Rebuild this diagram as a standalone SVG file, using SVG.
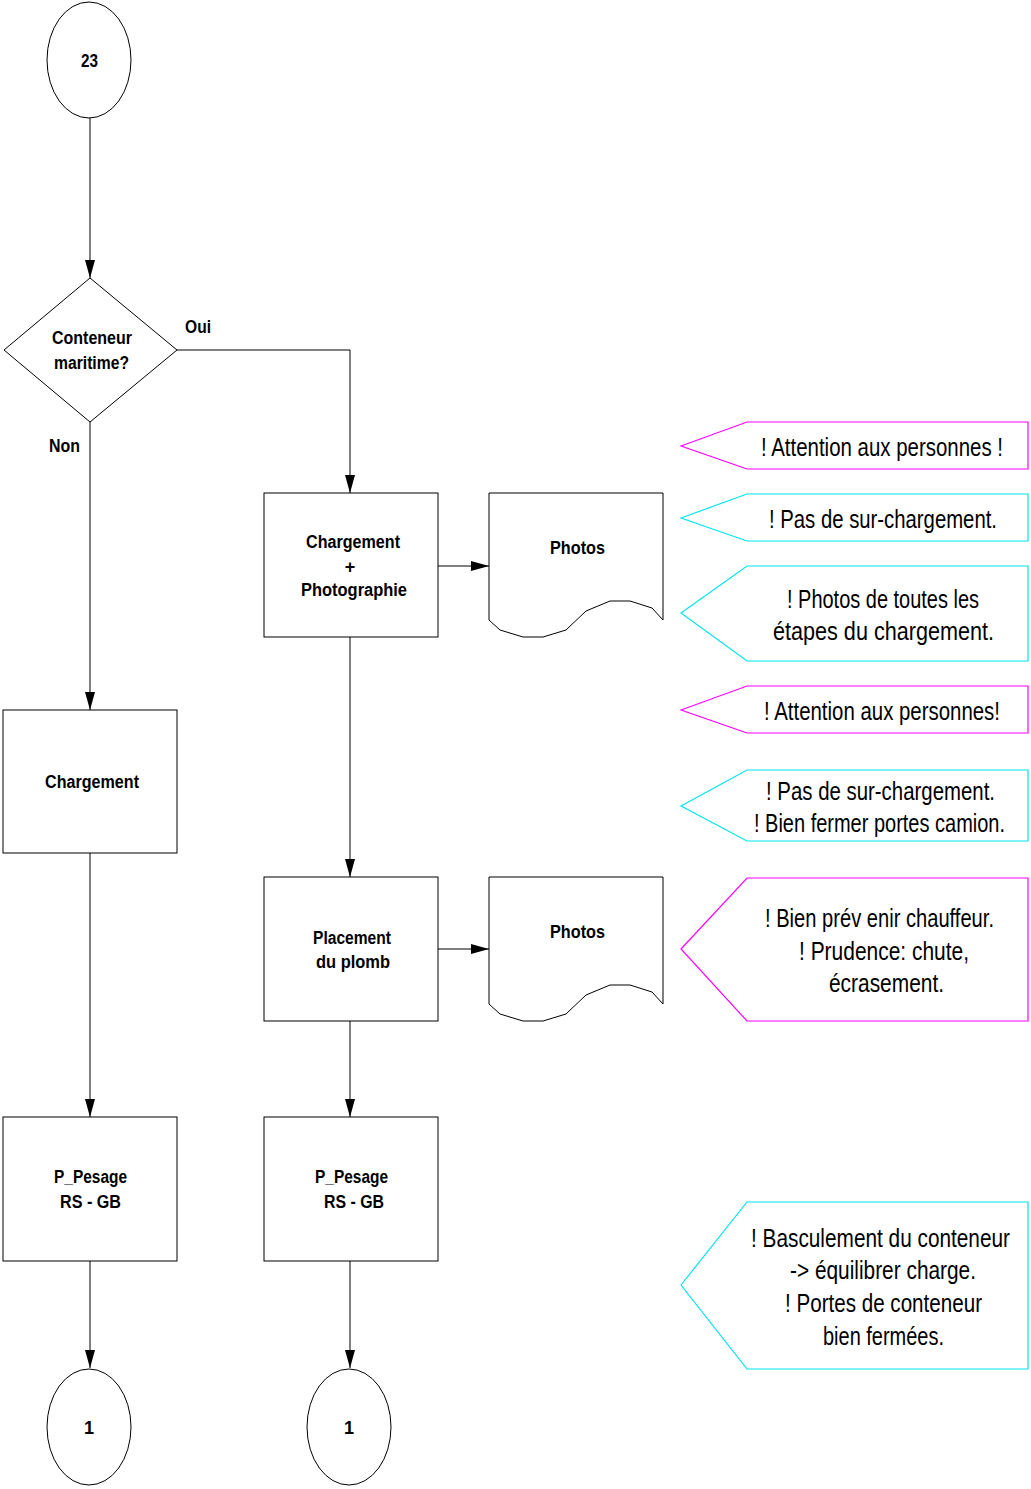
<svg xmlns="http://www.w3.org/2000/svg" width="1031" height="1489" viewBox="0 0 1031 1489">
<style>
.shape{fill:#fff;stroke:#000;stroke-width:1}
.lbl{font-family:"Liberation Sans",Arial,sans-serif;font-weight:bold;font-size:18px;fill:#000;text-anchor:middle}
.note{font-family:"Liberation Sans",Arial,sans-serif;font-size:25px;fill:#000;text-anchor:middle}
.mag{fill:#fff;stroke:#ff00ff;stroke-width:1.2}
.cya{fill:#fff;stroke:#00e5ee;stroke-width:1.2}
.conn{fill:none;stroke:#000;stroke-width:1}
</style>
<defs>
<marker id="arr" viewBox="0 0 18 10" refX="18" refY="5" markerWidth="18" markerHeight="10" markerUnits="userSpaceOnUse" orient="auto">
<path d="M0,0 L18,5 L0,10 Z" fill="#000"/>
</marker>
</defs>
<g id="connectors">
<path class="conn" d="M90,118 L90,278" marker-end="url(#arr)"/>
<path class="conn" d="M177,350 L350,350 L350,493" marker-end="url(#arr)"/>
<path class="conn" d="M90,422 L90,710" marker-end="url(#arr)"/>
<path class="conn" d="M438,566 L489,566" marker-end="url(#arr)"/>
<path class="conn" d="M350,637 L350,877" marker-end="url(#arr)"/>
<path class="conn" d="M438,949 L489,949" marker-end="url(#arr)"/>
<path class="conn" d="M90,853 L90,1117" marker-end="url(#arr)"/>
<path class="conn" d="M350,1021 L350,1117" marker-end="url(#arr)"/>
<path class="conn" d="M90,1261 L90,1368" marker-end="url(#arr)"/>
<path class="conn" d="M350,1261 L350,1368" marker-end="url(#arr)"/>
</g>
<g id="start23">
<ellipse class="shape" cx="89" cy="60" rx="42" ry="58"/>
<text class="lbl" x="89.5" y="67" textLength="17" lengthAdjust="spacingAndGlyphs">23</text>
</g>
<g id="decision">
<polygon class="shape" points="90,278 177,350 90,422 4,350"/>
<text class="lbl" x="92" y="344" textLength="80" lengthAdjust="spacingAndGlyphs">Conteneur</text>
<text class="lbl" x="91.5" y="369" textLength="75" lengthAdjust="spacingAndGlyphs">maritime?</text>
</g>
<text class="lbl" x="198" y="333" textLength="26" lengthAdjust="spacingAndGlyphs">Oui</text>
<text class="lbl" x="64.5" y="452" textLength="31" lengthAdjust="spacingAndGlyphs">Non</text>
<g id="chargPhoto">
<rect class="shape" x="264" y="493" width="174" height="144"/>
<text class="lbl" x="353" y="548" textLength="94" lengthAdjust="spacingAndGlyphs">Chargement</text>
<text class="lbl" x="350" y="573">+</text>
<text class="lbl" x="354" y="596" textLength="106" lengthAdjust="spacingAndGlyphs">Photographie</text>
</g>
<g id="photos1">
<path class="shape" d="M489,493 L663,493 L663,620 L652,608 L630,601 L610,601 L586,611 L566,630 L543,637 L523,637 L500,630 L489,620 Z"/>
<text class="lbl" x="577.5" y="554" textLength="55" lengthAdjust="spacingAndGlyphs">Photos</text>
</g>
<g id="chargement">
<rect class="shape" x="3" y="710" width="174" height="143"/>
<text class="lbl" x="92" y="788" textLength="94" lengthAdjust="spacingAndGlyphs">Chargement</text>
</g>
<g id="placement">
<rect class="shape" x="264" y="877" width="174" height="144"/>
<text class="lbl" x="352" y="944" textLength="78" lengthAdjust="spacingAndGlyphs">Placement</text>
<text class="lbl" x="353" y="968" textLength="74" lengthAdjust="spacingAndGlyphs">du plomb</text>
</g>
<g id="photos2">
<path class="shape" d="M489,877 L663,877 L663,1004 L652,992 L630,985 L610,985 L586,995 L566,1014 L543,1021 L523,1021 L500,1014 L489,1004 Z"/>
<text class="lbl" x="577.5" y="938" textLength="55" lengthAdjust="spacingAndGlyphs">Photos</text>
</g>
<g id="pesage1">
<rect class="shape" x="3" y="1117" width="174" height="144"/>
<text class="lbl" x="90.5" y="1183" textLength="73" lengthAdjust="spacingAndGlyphs">P_Pesage</text>
<text class="lbl" x="90.5" y="1208" textLength="61" lengthAdjust="spacingAndGlyphs">RS - GB</text>
</g>
<g id="pesage2">
<rect class="shape" x="264" y="1117" width="174" height="144"/>
<text class="lbl" x="351.5" y="1183" textLength="73" lengthAdjust="spacingAndGlyphs">P_Pesage</text>
<text class="lbl" x="354" y="1208" textLength="60" lengthAdjust="spacingAndGlyphs">RS - GB</text>
</g>
<g id="end1a">
<ellipse class="shape" cx="89" cy="1427" rx="42" ry="58"/>
<text class="lbl" x="89" y="1434">1</text>
</g>
<g id="end1b">
<ellipse class="shape" cx="349" cy="1427" rx="42" ry="58"/>
<text class="lbl" x="349" y="1434">1</text>
</g>
<g id="note1">
<polygon class="mag" points="681,446 747,422 1028,422 1028,469 747,469"/>
<text class="note" x="882" y="456" textLength="242" lengthAdjust="spacingAndGlyphs">! Attention aux personnes !</text>
</g>
<g id="note2">
<polygon class="cya" points="681,518 747,494 1028,494 1028,541 747,541"/>
<text class="note" x="883" y="528" textLength="228" lengthAdjust="spacingAndGlyphs">! Pas de sur-chargement.</text>
</g>
<g id="note3">
<polygon class="cya" points="681,613 747,566 1028,566 1028,661 747,661"/>
<text class="note" x="883" y="608" textLength="192" lengthAdjust="spacingAndGlyphs">! Photos de toutes les</text>
<text class="note" x="883.5" y="640" textLength="221" lengthAdjust="spacingAndGlyphs">étapes du chargement.</text>
</g>
<g id="note4">
<polygon class="mag" points="681,710 747,686 1028,686 1028,733 747,733"/>
<text class="note" x="882" y="720" textLength="236" lengthAdjust="spacingAndGlyphs">! Attention aux personnes!</text>
</g>
<g id="note5">
<polygon class="cya" points="681,806 747,770 1028,770 1028,841 747,841"/>
<text class="note" x="880.5" y="800" textLength="229" lengthAdjust="spacingAndGlyphs">! Pas de sur-chargement.</text>
<text class="note" x="879.5" y="832" textLength="251" lengthAdjust="spacingAndGlyphs">! Bien fermer portes camion.</text>
</g>
<g id="note6">
<polygon class="mag" points="681,949 747,878 1028,878 1028,1021 747,1021"/>
<text class="note" x="879.5" y="927" textLength="229" lengthAdjust="spacingAndGlyphs">! Bien prév enir chauffeur.</text>
<text class="note" x="884" y="960" textLength="170" lengthAdjust="spacingAndGlyphs">! Prudence: chute,</text>
<text class="note" x="886.5" y="992" textLength="115" lengthAdjust="spacingAndGlyphs">écrasement.</text>
</g>
<g id="note7">
<polygon class="cya" points="681,1285 747,1202 1028,1202 1028,1369 747,1369"/>
<text class="note" x="880.5" y="1247" textLength="259" lengthAdjust="spacingAndGlyphs">! Basculement du conteneur</text>
<text class="note" x="883" y="1279" textLength="186" lengthAdjust="spacingAndGlyphs">-&gt; équilibrer charge.</text>
<text class="note" x="883.5" y="1312" textLength="197" lengthAdjust="spacingAndGlyphs">! Portes de conteneur</text>
<text class="note" x="883.5" y="1345" textLength="121" lengthAdjust="spacingAndGlyphs">bien fermées.</text>
</g>
</svg>
